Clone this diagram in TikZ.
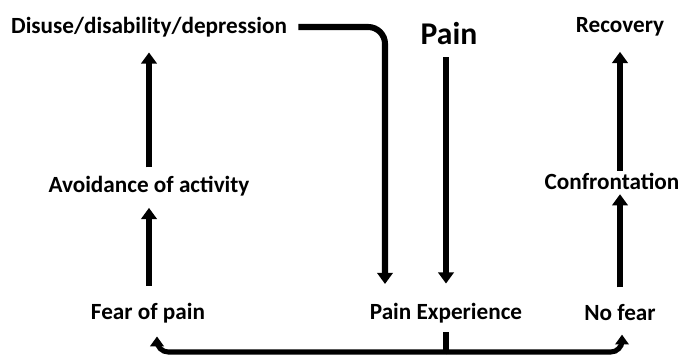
\documentclass[tikz,border=0pt]{standalone}
\usepackage{fontspec}
\setmainfont{Carlito}
\usetikzlibrary{arrows.meta,positioning,calc}

\tikzset{
  lbl/.style={font=\fontsize{16.5}{19}\selectfont\bfseries, inner sep=0pt},
  big/.style={font=\fontsize{22.5}{26}\selectfont\bfseries, inner sep=0pt},
  arr/.style={line width=4.3pt, -{Triangle[length=8pt,width=11pt]}},
  thin arr/.style={line width=3.6pt, -{Triangle[length=7pt,width=9.5pt]}}
}

\begin{document}
\begin{tikzpicture}[x=0.025cm, y=0.025cm]
    \useasboundingbox (0,0) rectangle (681,356);

    % Top row
    \node[lbl] (disuse) at (149,329) {Disuse/disability/depression};
    \node[big] (pain) at (449,322) {Pain};
    \node[lbl] (recovery) at (620,329) {Recovery};

    % Middle row
    \node[lbl] (avoid) at (149,170) {Avoidance of activity};
    \node[lbl] (confront) at (612,175) {Confrontation};

    % Bottom row
    \node[lbl] (fear) at (148,43) {Fear of pain};
    \node[lbl] (painexp) at (446,43) {Pain Experience};
    \node[lbl] (nofear) at (620,43) {No fear};

    % Left column
    \draw[arr, shorten <=0.43cm, shorten >=0.29cm] (fear.north -| avoid) -- (avoid);
    \draw[arr, shorten <=0.21cm, shorten >=0.38cm] (avoid) -- (disuse);

    % Right column
    \draw[arr, shorten <=0.43cm, shorten >=0.33cm] (nofear) -- (nofear |- confront);
    \draw[arr, shorten <=0.26cm, shorten >=0.38cm] (confront -| recovery) -- (recovery);

    % Pain down to experience
    \coordinate (mid) at (446,0);
    \draw[arr, shorten <=0.3cm, shorten >=0.48cm] (pain.south -| mid) -- (painexp.north -| mid);

    % Disuse round to experience
    \coordinate (drop) at (385,60);
    \draw[arr, rounded corners=12pt, shorten <=0.28cm, shorten >=0.3cm] (disuse.east) -| (drop);

    % Split from experience
    \coordinate (base) at (446,4);
    \coordinate (lfoot) at (157,0);
    \coordinate (rfoot) at (622,0);
    \draw[line width=3.6pt] ([yshift=-0.22cm]painexp.south) -- (base);
    \draw[thin arr, rounded corners=8pt, shorten >=0.33cm] (base) -| (fear.south -| lfoot);
    \draw[thin arr, rounded corners=8pt, shorten >=0.33cm] (base) -| (nofear.south -| rfoot);
\end{tikzpicture}
\end{document}
